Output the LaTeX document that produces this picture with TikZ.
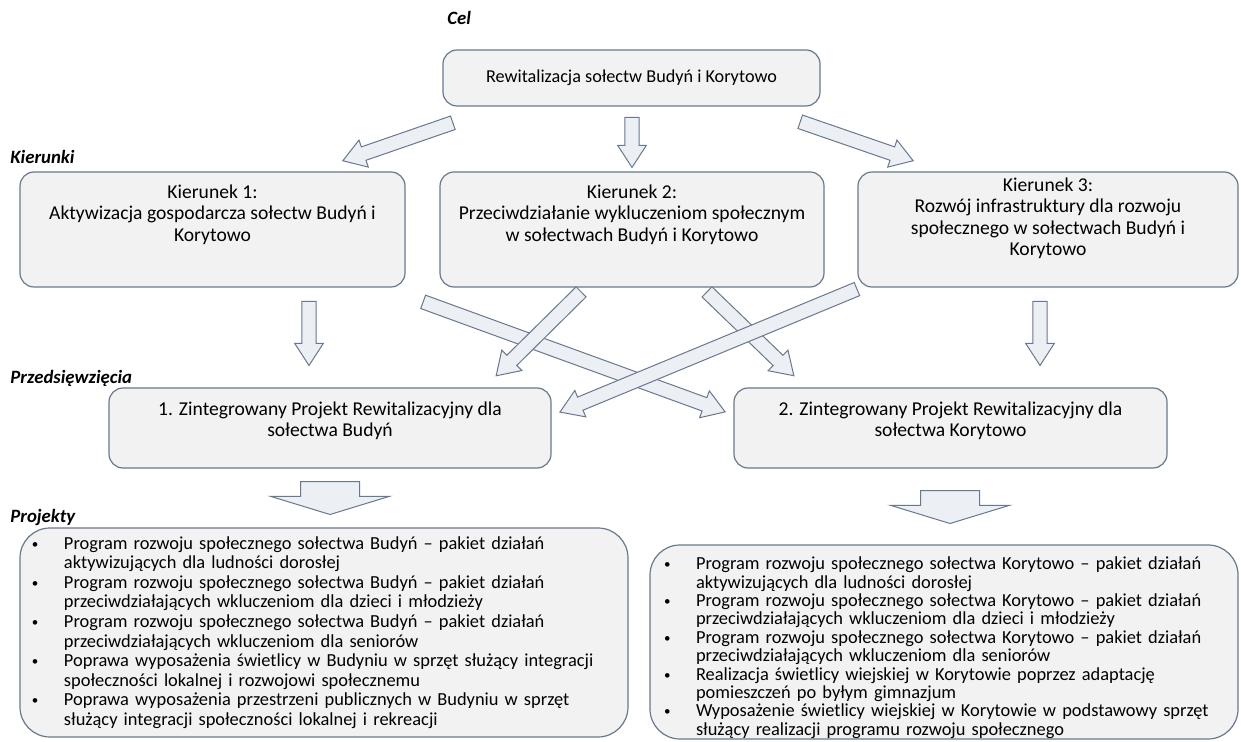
\documentclass[tikz,border=0pt]{standalone}
\usepackage{fontspec}
\setmainfont{Carlito}
\usetikzlibrary{shapes.arrows,calc}

\definecolor{boxline}{RGB}{104,120,142}
\definecolor{boxfill}{RGB}{242,242,243}
\definecolor{arrowfill}{RGB}{236,239,244}

% text block fixed to the top of a box of given size
\newcommand\toptext[4]{\parbox[c][#2][t]{#1}{\centering\vspace*{#3}#4}}
% one bullet item over two lines
\newcommand\pitem[2]{\makebox[16pt][l]{\raisebox{0.5pt}{\fontsize{6.5}{6.5}\selectfont\textbullet}}#1\\\hspace*{16pt}#2}
% block arrow from one named point to another
\newcommand\blockarr[3][blockarrow]{%
  \path let \p1=(#2), \p2=(#3), \n1={atan2(\y2-\y1,\x2-\x1)}, \n2={veclen(\x2-\x1,\y2-\y1)} in
    node[#1, minimum height=\n2, rotate=\n1] at ($(#2)!0.5!(#3)$) {};}

\begin{document}
\begin{tikzpicture}[x=0.5pt,y=-0.5pt,font=\fontsize{9.8}{10.6}\selectfont,
  box/.style={draw=boxline, fill=boxfill, line width=0.6pt, rounded corners=7pt, inner sep=0pt},
  listbox/.style={box, rounded corners=15pt, align=left, font=\fontsize{9.2}{#1}\selectfont},
  tag/.style={anchor=west, inner sep=0pt, font=\fontsize{9.4}{11}\selectfont\bfseries\itshape},
  blockarrow/.style={single arrow, draw=boxline, fill=arrowfill, line width=0.5pt, inner sep=0pt,
    inner ysep=3.3pt, single arrow head extend=3.6pt, single arrow tip angle=66},
  widearrow/.style={blockarrow, inner ysep=14.5pt, single arrow head extend=15pt, single arrow tip angle=146}]
\useasboundingbox (0,0) rectangle (1241,742);
% --- Cel ---
\node[tag] (celtag) at (447,18) {Cel};
\node[box, minimum width=188.5pt, minimum height=28pt, font=\fontsize{9.1}{10.6}\selectfont] (cel) at (631.5,78) {Rewitalizacja sołectw Budyń i Korytowo};
% --- Kierunki ---
\node[tag] (kiertag) at (10,157) {Kierunki};
\node[box] (k1) at (212.5,229.5) {\toptext{192.5pt}{57.5pt}{6.5pt}{Kierunek 1:\\Aktywizacja gospodarcza sołectw Budyń i\\Korytowo}};
\node[box] (k2) at (632,229.5) {\toptext{192pt}{57.5pt}{6.5pt}{Kierunek 2:\\Przeciwdziałanie wykluczeniom społecznym\\w sołectwach Budyń i Korytowo}};
\node[box] (k3) at (1048,229.5) {\toptext{190pt}{57.5pt}{3pt}{Kierunek 3:\\Rozwój infrastruktury dla rozwoju\\społecznego w sołectwach Budyń i\\Korytowo}};
% arrows Cel -> Kierunki
\coordinate (a1s) at (458,121); \coordinate (a1e) at (348,159);
\coordinate (a2s) at (632,112); \coordinate (a2e) at (632,162);
\coordinate (a3s) at (795,120); \coordinate (a3e) at (908,159);
\blockarr{a1s}{a1e}
\blockarr{a2s}{a2e}
\blockarr{a3s}{a3e}
% --- Przedsiewziecia ---
\node[tag] (przedtag) at (10,378) {Przedsięwzięcia};
\node[box] (zp1) at (330,428) {\toptext{221pt}{40pt}{7pt}{1. Zintegrowany Projekt Rewitalizacyjny dla\\sołectwa Budyń}};
\node[box] (zp2) at (950.5,428) {\toptext{216.5pt}{40pt}{7pt}{2. Zintegrowany Projekt Rewitalizacyjny dla\\sołectwa Korytowo}};
% arrows Kierunki -> Przedsiewziecia
\coordinate (b1s) at (309,296);  \coordinate (b1e) at (309,360);
\coordinate (b2s) at (418,300);  \coordinate (b2e) at (720,410);
\coordinate (b3s) at (585,288);  \coordinate (b3e) at (500,372);
\coordinate (b4s) at (703,288);  \coordinate (b4e) at (790,372);
\coordinate (b5s) at (862,287);  \coordinate (b5e) at (565,410);
\coordinate (b6s) at (1040,296); \coordinate (b6e) at (1040,360);
\blockarr{b1s}{b1e}
\blockarr{b2s}{b2e}
\blockarr{b3s}{b3e}
\blockarr{b4s}{b4e}
\blockarr{b5s}{b5e}
\blockarr{b6s}{b6e}
% --- Projekty ---
\node[tag] (projtag) at (10,517) {Projekty};
\node[listbox=9.8pt, minimum width=304pt, minimum height=104.5pt, text width=292pt] (pr1) at (324,632.5) {%
  \pitem{Program rozwoju społecznego sołectwa Budyń – pakiet działań}{aktywizujących dla ludności dorosłej}\\
  \pitem{Program rozwoju społecznego sołectwa Budyń – pakiet działań}{przeciwdziałających wkluczeniom dla dzieci i młodzieży}\\
  \pitem{Program rozwoju społecznego sołectwa Budyń – pakiet działań}{przeciwdziałających wkluczeniom dla seniorów}\\
  \pitem{Poprawa wyposażenia świetlicy w Budyniu w sprzęt służący integracji}{społeczności lokalnej i rozwojowi społecznemu}\\
  \pitem{Poprawa wyposażenia przestrzeni publicznych w Budyniu w sprzęt}{służący integracji społeczności lokalnej i rekreacji}};
\node[listbox=9.2pt, minimum width=294pt, minimum height=97pt, text width=280pt] (pr2) at (944,642) {%
  \rule{0pt}{12pt}%
  \pitem{Program rozwoju społecznego sołectwa Korytowo – pakiet działań}{aktywizujących dla ludności dorosłej}\\
  \pitem{Program rozwoju społecznego sołectwa Korytowo – pakiet działań}{przeciwdziałających wkluczeniom dla dzieci i młodzieży}\\
  \pitem{Program rozwoju społecznego sołectwa Korytowo – pakiet działań}{przeciwdziałających wkluczeniom dla seniorów}\\
  \pitem{Realizacja świetlicy wiejskiej w Korytowie poprzez adaptację}{pomieszczeń po byłym gimnazjum}\\
  \pitem{Wyposażenie świetlicy wiejskiej w Korytowie w podstawowy sprzęt}{służący realizacji programu rozwoju społecznego}};
% arrows Przedsiewziecia -> Projekty
\coordinate (c1s) at (330,477); \coordinate (c1e) at (330,510);
\coordinate (c2s) at (950,486); \coordinate (c2e) at (950,519);
\blockarr[widearrow]{c1s}{c1e}
\blockarr[widearrow]{c2s}{c2e}
\end{tikzpicture}
\end{document}
